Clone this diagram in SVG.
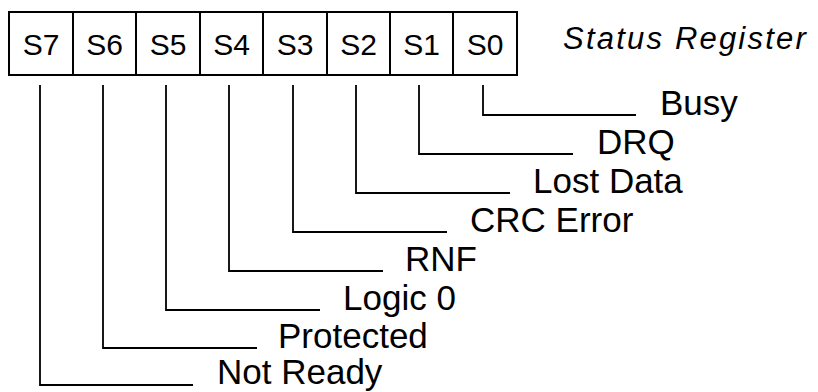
<svg xmlns="http://www.w3.org/2000/svg" width="818" height="392" viewBox="0 0 818 392">
<style>
.cell{fill:#fff;stroke:#000;stroke-width:2}
.bit{font-family:"Liberation Sans",Arial,sans-serif;font-size:30px;text-anchor:middle;fill:#000}
.lbl{font-family:"Liberation Sans",Arial,sans-serif;font-size:35px;fill:#000}
.title{font-family:"Liberation Sans",Arial,sans-serif;font-size:31px;font-style:italic;letter-spacing:2.2px;fill:#000}
.conn{fill:none;stroke:#000;stroke-width:1.8}
</style>
<rect width="818" height="392" fill="#fff"/>
<g id="register">
<g id="S7"><rect class="cell" x="9" y="12" width="64" height="63"/><text class="bit" x="41" y="55">S7</text></g>
<g id="S6"><rect class="cell" x="73" y="12" width="63" height="63"/><text class="bit" x="104.5" y="55">S6</text></g>
<g id="S5"><rect class="cell" x="136" y="12" width="64" height="63"/><text class="bit" x="168" y="55">S5</text></g>
<g id="S4"><rect class="cell" x="200" y="12" width="63" height="63"/><text class="bit" x="231.5" y="55">S4</text></g>
<g id="S3"><rect class="cell" x="263" y="12" width="64" height="63"/><text class="bit" x="295" y="55">S3</text></g>
<g id="S2"><rect class="cell" x="327" y="12" width="63" height="63"/><text class="bit" x="358.5" y="55">S2</text></g>
<g id="S1"><rect class="cell" x="390" y="12" width="63" height="63"/><text class="bit" x="421.5" y="55">S1</text></g>
<g id="S0"><rect class="cell" x="453" y="12" width="64" height="63"/><text class="bit" x="485" y="55">S0</text></g>
</g>
<g id="title"><text class="title" x="563" y="49">Status Register</text></g>
<g id="connectors">
<path class="conn" d="M483 85V115H636"/>
<path class="conn" d="M419 85V154H573"/>
<path class="conn" d="M356 85V193H510"/>
<path class="conn" d="M293 85V232H447"/>
<path class="conn" d="M229 85V271H383"/>
<path class="conn" d="M166 85V310H320"/>
<path class="conn" d="M103 85V348H257"/>
<path class="conn" d="M40 85V385H193"/>
</g>
<g id="labels">
<g id="busy"><text class="lbl" x="660" y="115">Busy</text></g>
<g id="drq"><text class="lbl" x="597" y="154">DRQ</text></g>
<g id="lostdata"><text class="lbl" x="533" y="193">Lost Data</text></g>
<g id="crcerror"><text class="lbl" x="470" y="232">CRC Error</text></g>
<g id="rnf"><text class="lbl" x="405" y="271">RNF</text></g>
<g id="logic0"><text class="lbl" x="343" y="310">Logic 0</text></g>
<g id="protected"><text class="lbl" x="278" y="348">Protected</text></g>
<g id="notready"><text class="lbl" x="217" y="384">Not Ready</text></g>
</g>
</svg>
